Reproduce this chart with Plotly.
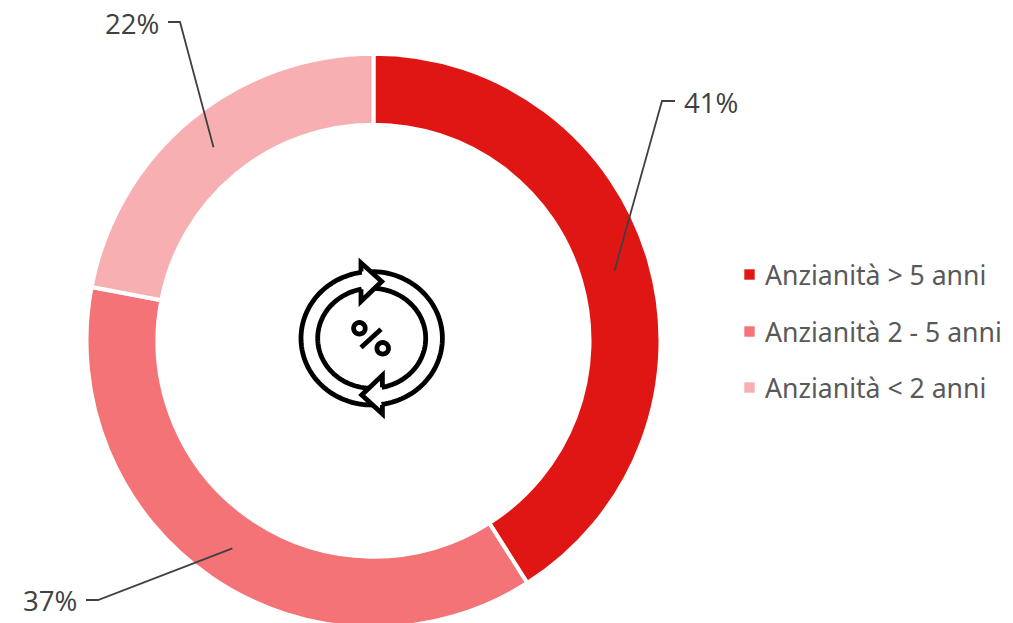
import math
import plotly.graph_objects as go

categories = ["Anzianità > 5 anni", "Anzianità 2 - 5 anni", "Anzianità < 2 anni"]
values = [41, 37, 22]
colors = ["#E01614", "#F37377", "#F8AFB1"]
value_labels = ["41%", "37%", "22%"]

W, H = 1013, 630
CX, CY, R_OUT, R_IN = 373.5, 340.7, 287.0, 216.0
LABEL_FONT = "Open Sans, sans-serif"
LEGEND_FONT = "Noto Sans, sans-serif"

def px(x):
    return x / W

def py(y):
    return 1 - y / H

def path(points, close=False):
    s = "M " + " L ".join(f"{px(x):.5f},{py(y):.5f}" for x, y in points)
    return s + (" Z" if close else "")

fig = go.Figure(go.Pie(
    labels=categories, values=values, sort=False, direction="clockwise", rotation=0,
    hole=R_IN / R_OUT, textinfo="none", showlegend=False,
    marker=dict(colors=colors, line=dict(color="white", width=4)),
    domain=dict(x=[px(CX - R_OUT), px(CX + R_OUT)], y=[py(CY + R_OUT), py(CY - R_OUT)]),
))

shapes, annotations = [], []

# leader lines start at each slice's mid-angle, mid-ring
elbows = [((662, 101), (675, 101)), ((98, 600), (86, 600)), ((180, 22), (168, 22))]
label_pos = [(682.5, 102, "left"), (77.5, 600, "right"), (159.5, 23, "right")]
total = sum(values)
cum = 0
R_MID = 251
for v, lab, (e1, e2), (lx, ly, anchor) in zip(values, value_labels, elbows, label_pos):
    a = 2 * math.pi * (cum + v / 2) / total
    cum += v
    start = (CX + R_MID * math.sin(a), CY - R_MID * math.cos(a))
    shapes.append(dict(type="path", xref="paper", yref="paper", path=path([start, e1, e2]),
                       line=dict(color="#404040", width=1.8)))
    annotations.append(dict(x=px(lx), y=py(ly), xref="paper", yref="paper", text=lab, showarrow=False,
                            xanchor=anchor, yanchor="middle", borderpad=0,
                            font=dict(family=LABEL_FONT, size=27.6, color="#404040")))

# legend
legend_y = [274.5, 331.5, 387.5]
for name, c, y in zip(categories, colors, legend_y):
    shapes.append(dict(type="rect", xref="paper", yref="paper", x0=px(744.3), x1=px(754.7),
                       y0=py(y + 5.2), y1=py(y - 5.2), fillcolor=c, line=dict(width=0)))
    annotations.append(dict(x=px(764), y=py(y), xref="paper", yref="paper", text=name, showarrow=False,
                            xanchor="left", yanchor="middle", borderpad=0,
                            font=dict(family=LEGEND_FONT, size=26.6, color="#595959")))

# central icon (two arrows chasing round a percent sign), geometry in pixels from centre
IX, IY = 371.7, 338.3
def ellipse(rx, ry, t0, t1, n=60):
    pts = []
    for i in range(n + 1):
        t = math.radians(t0 + (t1 - t0) * i / n)
        pts.append((rx * math.sin(t), -ry * math.cos(t)))
    return pts

half = ellipse(70.7, 66.7, -8, -181)
half2 = ellipse(54, 50, -10.7, -176.5)
arrow = [(-10.7, -66.7), (-10.7, -75.5), (10, -56.7), (-10.7, -37), (-10.7, -49)]
icon_line = dict(color="#000000", width=4.8)
for sign in (1, -1):
    for poly in (half, half2, arrow):
        pts = [(IX + sign * x, IY + sign * y) for x, y in poly]
        shapes.append(dict(type="path", xref="paper", yref="paper", path=path(pts), line=icon_line))
# percent sign
shapes.append(dict(type="path", xref="paper", yref="paper", line=dict(color="#000000", width=4.8),
                   path=path([(IX - 10.7, IY + 9.3), (IX + 9.3, IY - 9)])))
for dx, dy in ((-12.3, -10), (11, 10)):
    pts = [(IX + dx + x, IY + dy + y) for x, y in ellipse(5.8, 5.8, 0, 360, 30)]
    shapes.append(dict(type="path", xref="paper", yref="paper", path=path(pts, True), line=icon_line))

fig.update_layout(width=W, height=H, margin=dict(l=0, r=0, t=0, b=0), autosize=False,
                  paper_bgcolor="white", plot_bgcolor="white", showlegend=False,
                  shapes=shapes, annotations=annotations)

fig.write_html("out.html", config={"displayModeBar": False},
               post_script="document.body.style.margin='0';document.documentElement.style.overflow='hidden';document.body.style.overflow='hidden';")
